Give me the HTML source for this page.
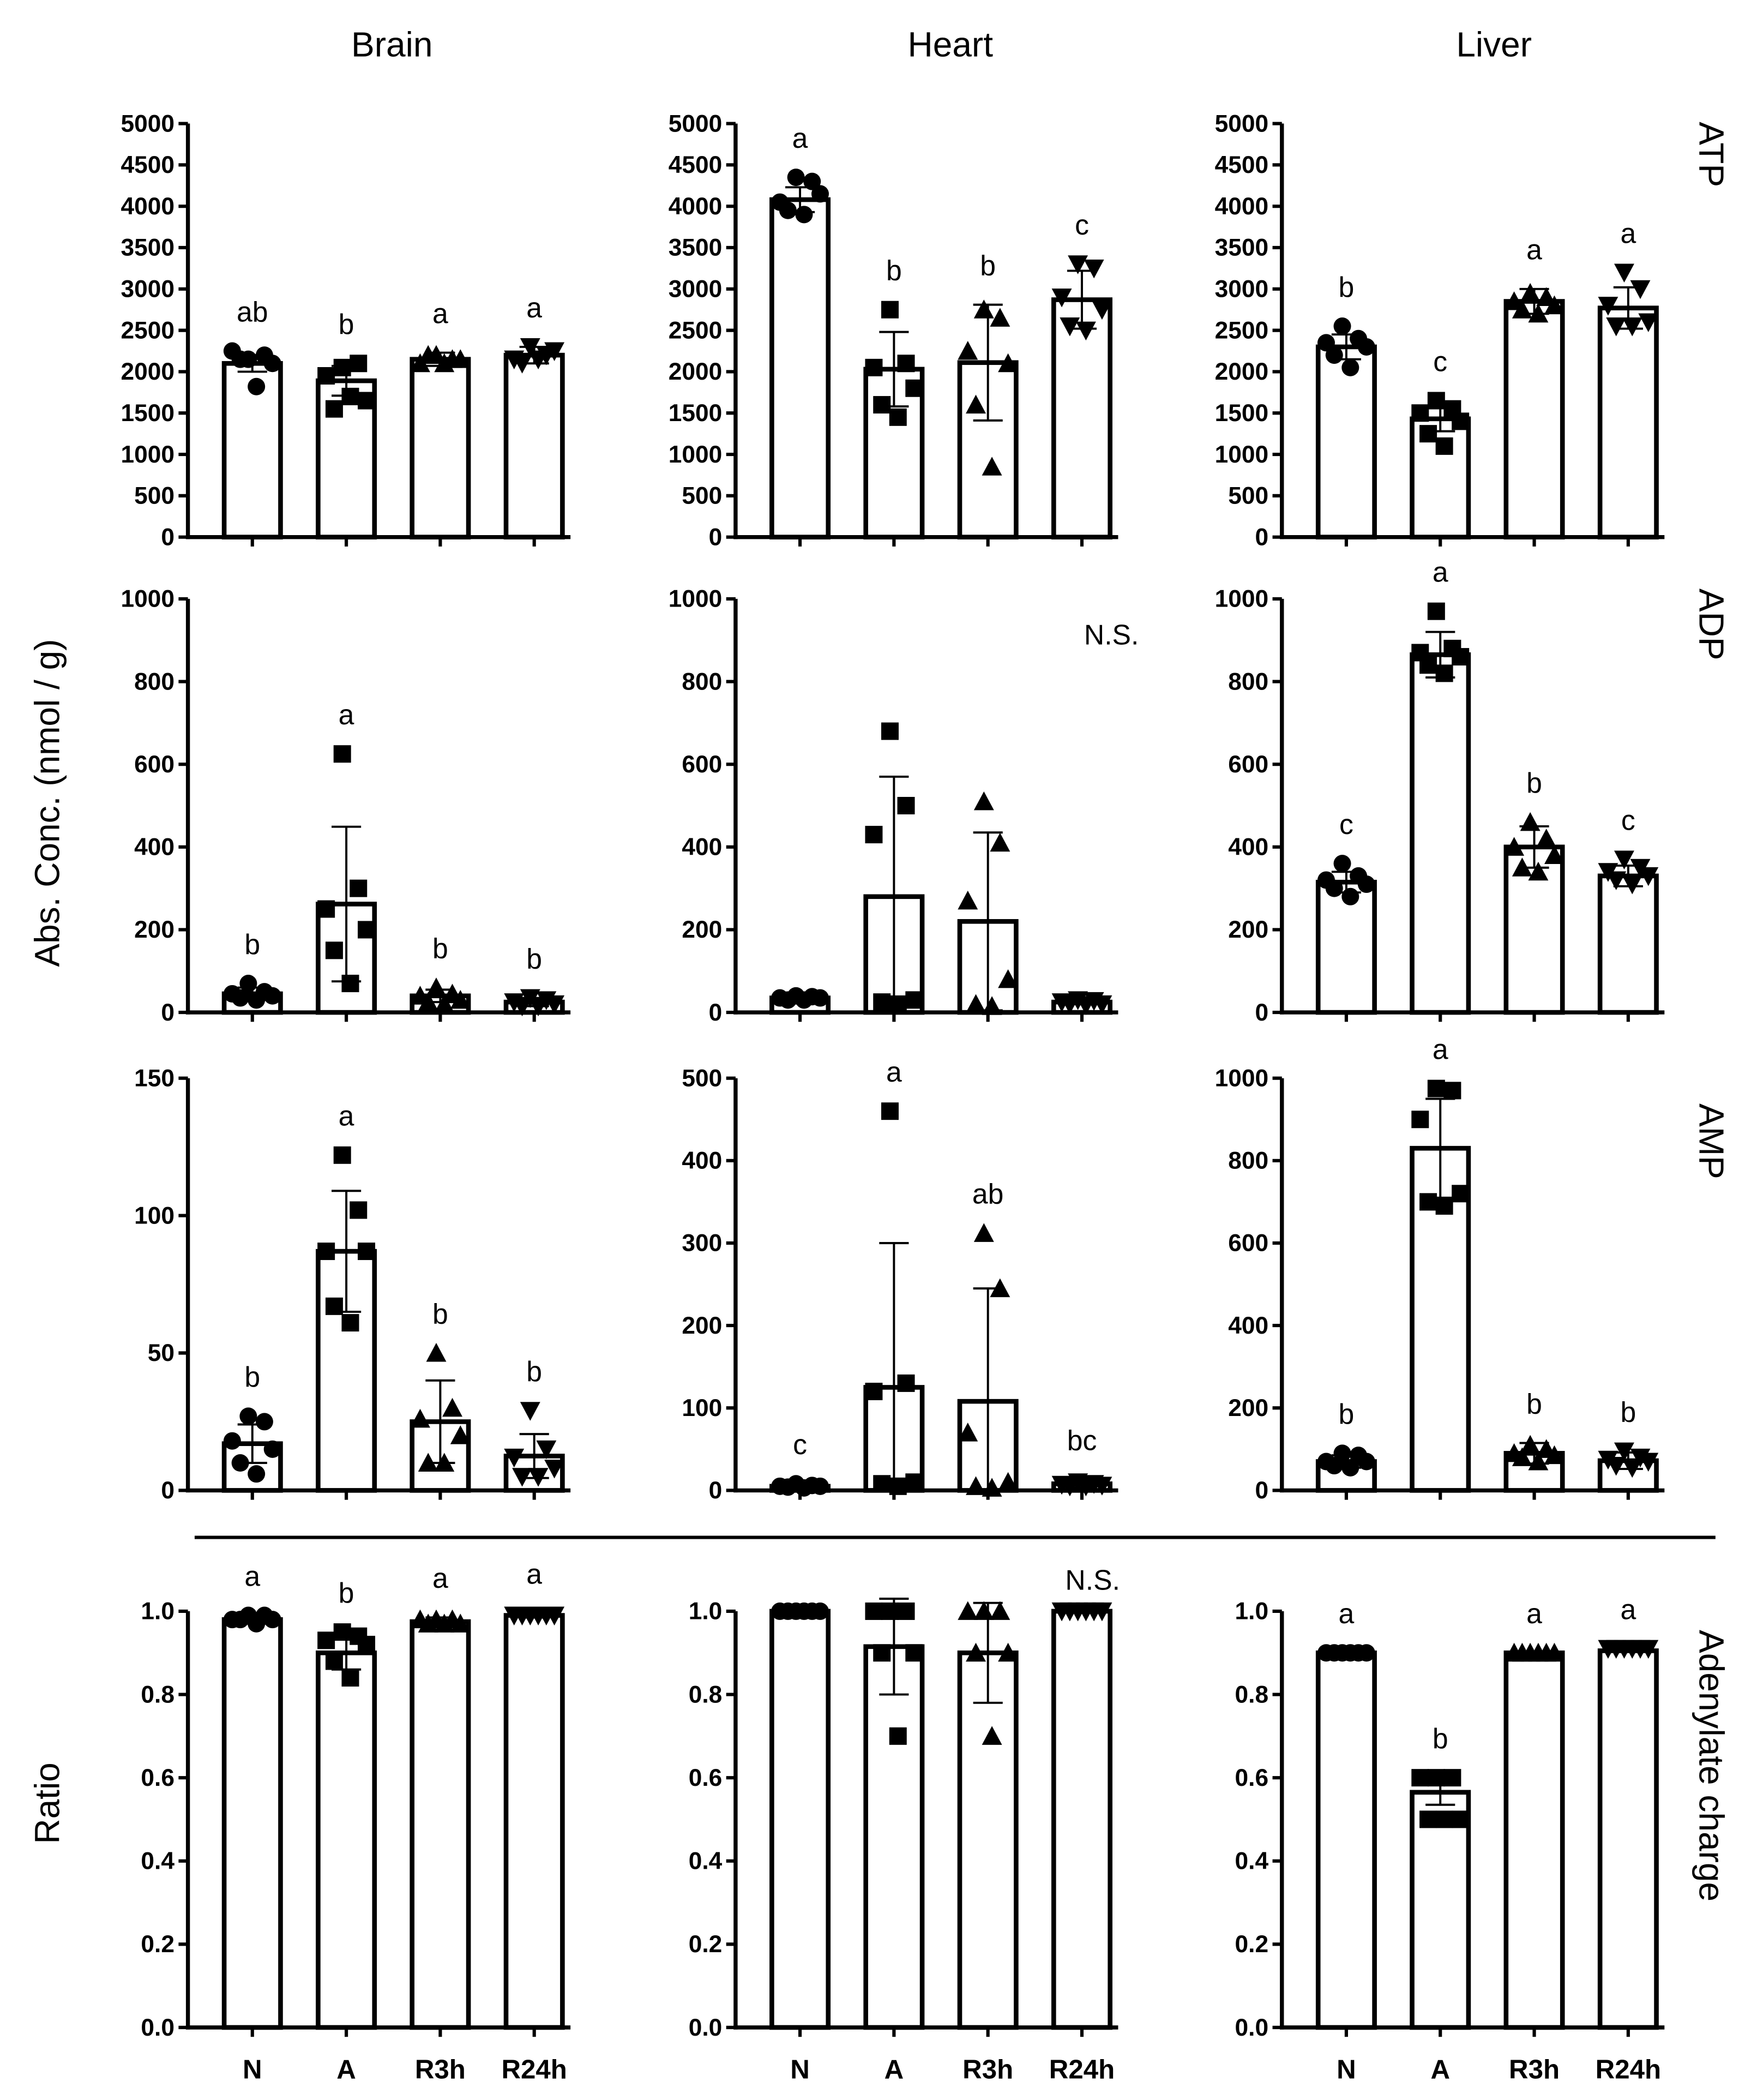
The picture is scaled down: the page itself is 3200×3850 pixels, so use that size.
<!DOCTYPE html>
<html><head><meta charset="utf-8"><style>
html,body{margin:0;padding:0;background:#fff}
svg{display:block}
text{font-family:"Liberation Sans",sans-serif}
</style></head><body>
<svg id="fig" width="3200" height="3850" viewBox="0 0 1300 1564" xmlns="http://www.w3.org/2000/svg">
<g font-size="26" text-anchor="middle">
<text x="292" y="42">Brain</text>
<text x="708" y="42">Heart</text>
<text x="1113" y="42">Liver</text>
</g>
<text transform="translate(44,598) rotate(-90)" text-anchor="middle" font-size="26">Abs. Conc. (nmol / g)</text>
<text transform="translate(44,1343) rotate(-90)" text-anchor="middle" font-size="26">Ratio</text>
<g font-size="26" text-anchor="middle">
<text transform="translate(1266,115) rotate(90)">ATP</text>
<text transform="translate(1266,465) rotate(90)">ADP</text>
<text transform="translate(1266,850) rotate(90)">AMP</text>
<text transform="translate(1266,1315) rotate(90)">Adenylate charge</text>
</g>
<line x1="145" y1="1145" x2="1278" y2="1145" stroke="#000" stroke-width="2.5"/>
<g id="panels"></g>
</svg>
<script>
const groups = ["N","A","R3h","R24h"];
// ATP
const brainAtpMean=[2100,1890,2150,2200], brainAtpSd=[100,180,80,100];
const brainAtpPts=[[2150,2200,2250,2100,2150,1820],[2050,2100,1950,1650,1550,1700],[2200,2150,2100,2150,2200,2100],[2300,2200,2150,2250,2100,2150]];
const brainAtpLetters=["ab","b","a","a"];
const heartAtpMean=[4080,2030,2110,2870], heartAtpSd=[150,450,700,350];
const heartAtpPts=[[4350,4300,4050,4150,3950,3900],[2750,2100,2050,1800,1600,1450],[2750,2650,2250,2100,1600,850],[3300,3250,2900,2750,2550,2500]];
const heartAtpLetters=["a","b","b","c"];
const liverAtpMean=[2300,1430,2850,2770], liverAtpSd=[150,150,150,250];
const liverAtpPts=[[2550,2400,2350,2300,2200,2050],[1650,1550,1500,1400,1250,1100],[2950,2900,2850,2800,2750,2700],[3200,3000,2800,2600,2550,2550]];
const liverAtpLetters=["b","c","a","a"];
// ADP
const brainAdpMean=[45,262,40,25], brainAdpSd=[15,187,15,10];
const brainAdpPts=[[70,50,45,40,35,30],[625,300,250,200,150,70],[60,45,40,30,25,20],[35,30,25,20,15,15]];
const brainAdpLetters=["b","a","b","b"];
const heartAdpMean=[35,280,220,25], heartAdpSd=[5,290,215,5];
const heartAdpPts=[[40,38,35,35,30,30],[680,500,430,30,25,20],[510,410,270,80,20,15],[30,28,25,20,20,18]];
const heartAdpLetters=["","","",""];
const liverAdpMean=[315,865,400,330], liverAdpSd=[25,55,50,25];
const liverAdpPts=[[360,330,320,310,300,280],[970,880,870,860,840,820],[460,420,400,380,350,340],[370,350,340,330,320,310]];
const liverAdpLetters=["c","a","b","c"];
// AMP
const brainAmpMean=[17,87,25,12.5], brainAmpSd=[7,22,15,8];
const brainAmpPts=[[27,25,18,15,10,6],[122,102,87,87,67,61],[50,30,26,20,10,10],[29,15,12,8,5,5]];
const brainAmpLetters=["b","a","b","b"];
const heartAmpMean=[5,125,108,8], heartAmpSd=[3,175,137,5];
const heartAmpPts=[[8,6,5,5,4,3],[460,130,120,10,8,5],[312,245,70,10,5,3],[10,8,7,6,5,5]];
const heartAmpLetters=["c","a","ab","bc"];
const liverAmpMean=[70,830,90,72], liverAmpSd=[15,120,25,20];
const liverAmpPts=[[90,85,70,70,60,55],[975,970,900,720,700,690],[110,100,90,85,80,70],[95,80,75,70,60,55]];
const liverAmpLetters=["b","a","b","b"];
// Ratio
const brainRatioMean=[0.98,0.90,0.975,0.99], brainRatioSd=[0.01,0.04,0.01,0.005];
const brainRatioPts=[[0.99,0.99,0.98,0.98,0.98,0.97],[0.95,0.94,0.93,0.92,0.88,0.84],[0.98,0.98,0.98,0.97,0.97,0.97],[0.99,0.99,0.99,0.99,0.99,0.99]];
const brainRatioLetters=["a","b","a","a"];
const heartRatioMean=[1.0,0.915,0.9,1.0], heartRatioSd=[0,0.115,0.12,0];
const heartRatioPts=[[1,1,1,1,1,1],[1.0,1.0,1.0,0.9,0.9,0.7],[1.0,1.0,1.0,0.9,0.9,0.7],[1,1,1,1,1,1]];
const heartRatioLetters=["","","",""];
const liverRatioMean=[0.9,0.565,0.9,0.905], liverRatioSd=[0,0.03,0,0];
const liverRatioPts=[[0.9,0.9,0.9,0.9,0.9,0.9],[0.6,0.6,0.6,0.5,0.5,0.5],[0.9,0.9,0.9,0.9,0.9,0.9],[0.91,0.91,0.91,0.91,0.91,0.91]];
const liverRatioLetters=["a","b","a","a"];

const atpTicks=[0,500,1000,1500,2000,2500,3000,3500,4000,4500,5000];
const adpTicks=[0,200,400,600,800,1000];
const brainAmpTicks=[0,50,100,150];
const heartAmpTicks=[0,100,200,300,400,500];
const liverAmpTicks=[0,200,400,600,800,1000];
const ratioTicks=[0.0,0.2,0.4,0.6,0.8,1.0];

const NS="http://www.w3.org/2000/svg";
const root=document.getElementById('panels');
const colX=[140,548,955];
const barOff=[48,118,188,258];
const jit=[-3,9,-15,15,-9,3];
function mk(tag,attrs,parent){const e=document.createElementNS(NS,tag);for(const k in attrs)e.setAttribute(k,attrs[k]);parent.appendChild(e);return e;}

function panel(name,col,y0,yTop,ticks,mean,sd,pts,letters,decimals,showX){
  const g=mk('g',{},root);
  
  
  const ax=colX[col], max=ticks[ticks.length-1];
  const Y=v=>y0-(v/max)*(y0-yTop);
  const X=i=>ax+barOff[i];
  const yl=mk('line',{x1:ax,y1:yTop,x2:ax,y2:y0+1.5,stroke:'#000','stroke-width':3},g);
  
  
  const xl=mk('line',{x1:ax-1.5,y1:y0,x2:ax+285,y2:y0,stroke:'#000','stroke-width':3},g);
  
  
  ticks.forEach(t=>{
    mk('line',{x1:ax-7,y1:Y(t),x2:ax,y2:Y(t),stroke:'#000','stroke-width':2.5},g);
    const tx=mk('text',{x:ax-10,y:Y(t)+6,'text-anchor':'end','font-size':18,'font-weight':'bold'},g);
    tx.textContent=t.toFixed(decimals);
    
    
  });
  groups.forEach((gr,i)=>{
    const cx=X(i);
    mk('line',{x1:cx,y1:y0,x2:cx,y2:y0+7,stroke:'#000','stroke-width':2.5},g);
    const b=mk('rect',{x:cx-21,y:Y(mean[i]),width:42,height:y0-Y(mean[i]),fill:'#fff',stroke:'#000','stroke-width':3.5},g);
    
    
    const hi=Y(mean[i]+sd[i]), lo=Y(Math.max(0,mean[i]-sd[i]));
    const eb=mk('path',{d:`M${cx},${lo}V${hi}M${cx-11},${hi}H${cx+11}M${cx-11},${lo}H${cx+11}`,stroke:'#000','stroke-width':1.6,fill:'none'},g);
    
    
    pts[i].forEach((v,k)=>{
      const px=cx+jit[k], py=Y(v), r=6.5;
      let m;
      if(i===0) m=mk('circle',{cx:px,cy:py,r:r},g);
      else if(i===1) m=mk('rect',{x:px-r,y:py-r,width:2*r,height:2*r},g);
      else if(i===2) m=mk('path',{d:`M${px},${py-r-1}L${px+r+1},${py+r}L${px-r-1},${py+r}Z`},g);
      else m=mk('path',{d:`M${px},${py+r+1}L${px+r+1},${py-r}L${px-r-1},${py-r}Z`},g);
      m.setAttribute('fill','#000');
      
      
    });
    if(letters[i]){
      const top=Math.min(hi,Y(Math.max(...pts[i])));
      const lt=mk('text',{x:cx,y:top-22,'text-anchor':'middle','font-size':21},g);
      lt.textContent=letters[i];
      
      
    }
    if(showX){
      const xt=mk('text',{x:cx,y:1548,'text-anchor':'middle','font-size':20,'font-weight':'bold'},g);
      xt.textContent=gr;
      
      
    }
  });
}
panel('brain-atp',0,400,92,atpTicks,brainAtpMean,brainAtpSd,brainAtpPts,brainAtpLetters,0,false);
panel('heart-atp',1,400,92,atpTicks,heartAtpMean,heartAtpSd,heartAtpPts,heartAtpLetters,0,false);
panel('liver-atp',2,400,92,atpTicks,liverAtpMean,liverAtpSd,liverAtpPts,liverAtpLetters,0,false);
panel('brain-adp',0,754,446,adpTicks,brainAdpMean,brainAdpSd,brainAdpPts,brainAdpLetters,0,false);
panel('heart-adp',1,754,446,adpTicks,heartAdpMean,heartAdpSd,heartAdpPts,heartAdpLetters,0,false);
panel('liver-adp',2,754,446,adpTicks,liverAdpMean,liverAdpSd,liverAdpPts,liverAdpLetters,0,false);
panel('brain-amp',0,1110,803,brainAmpTicks,brainAmpMean,brainAmpSd,brainAmpPts,brainAmpLetters,0,false);
panel('heart-amp',1,1110,803,heartAmpTicks,heartAmpMean,heartAmpSd,heartAmpPts,heartAmpLetters,0,false);
panel('liver-amp',2,1110,803,liverAmpTicks,liverAmpMean,liverAmpSd,liverAmpPts,liverAmpLetters,0,false);
panel('brain-ratio',0,1510,1200,ratioTicks,brainRatioMean,brainRatioSd,brainRatioPts,brainRatioLetters,1,true);
panel('heart-ratio',1,1510,1200,ratioTicks,heartRatioMean,heartRatioSd,heartRatioPts,heartRatioLetters,1,true);
panel('liver-ratio',2,1510,1200,ratioTicks,liverRatioMean,liverRatioSd,liverRatioPts,liverRatioLetters,1,true);

const ns1=mk('text',{x:828,y:480,'text-anchor':'middle','font-size':21},root);
ns1.textContent='N.S.';


const ns2=mk('text',{x:814,y:1184,'text-anchor':'middle','font-size':21},root);
ns2.textContent='N.S.';


</script>
</body></html>
